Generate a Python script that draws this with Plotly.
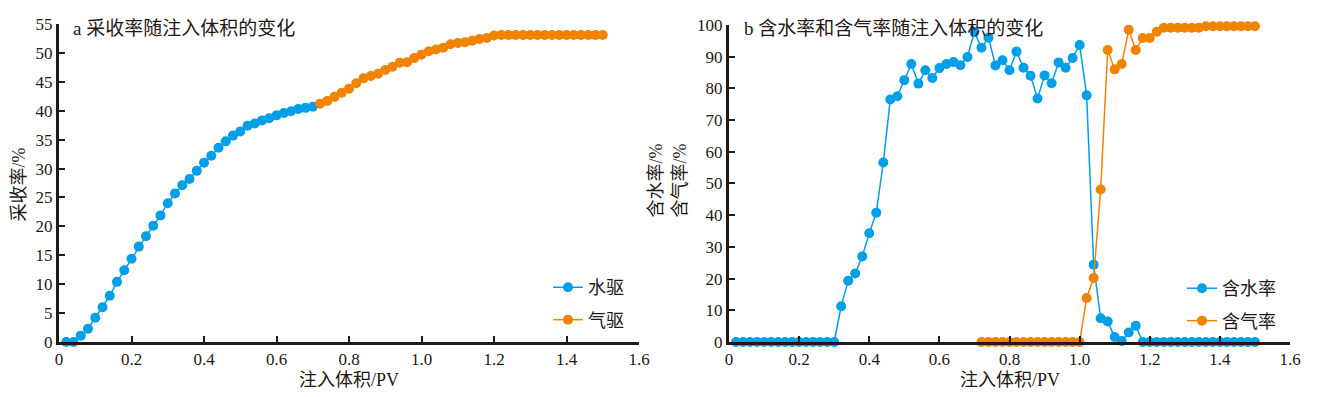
import plotly.graph_objects as go

# ---------------- data ----------------
# Panel a: recovery factor vs injected volume
water_drive_pv = [0.02, 0.04, 0.06, 0.08, 0.10, 0.12, 0.14, 0.16, 0.18, 0.20,
                  0.22, 0.24, 0.26, 0.28, 0.30, 0.32, 0.34, 0.36, 0.38, 0.40,
                  0.42, 0.44, 0.46, 0.48, 0.50, 0.52, 0.54, 0.56, 0.58, 0.60,
                  0.62, 0.64, 0.66, 0.68, 0.70]
water_drive_rf = [0, 0, 1.1, 2.3, 4.2, 6.0, 8.0, 10.4, 12.4, 14.4,
                  16.5, 18.3, 20.1, 21.9, 24.0, 25.7, 27.1, 28.2, 29.6, 31.0,
                  32.2, 33.6, 34.7, 35.7, 36.4, 37.4, 37.8, 38.3, 38.7, 39.2,
                  39.6, 39.9, 40.3, 40.5, 40.7]
gas_drive_pv = [0.72, 0.74, 0.76, 0.78, 0.80, 0.82, 0.84, 0.86, 0.88, 0.90,
                0.92, 0.94, 0.96, 0.98, 1.00, 1.02, 1.04, 1.06, 1.08, 1.10,
                1.12, 1.14, 1.16, 1.18, 1.20, 1.22, 1.24, 1.26, 1.28, 1.30,
                1.32, 1.34, 1.36, 1.38, 1.40, 1.42, 1.44, 1.46, 1.48, 1.50]
gas_drive_rf = [41.2, 41.7, 42.4, 43.1, 43.8, 44.75, 45.6, 46.0, 46.4, 47.05,
                47.6, 48.3, 48.4, 49.1, 49.7, 50.3, 50.6, 50.9, 51.5, 51.7,
                51.85, 52.1, 52.4, 52.6, 53.0, 53.1, 53.1, 53.1, 53.1, 53.1,
                53.1, 53.1, 53.1, 53.1, 53.1, 53.1, 53.1, 53.1, 53.1, 53.1]

# Panel b: water cut and gas cut vs injected volume
cut_pv = [0.02, 0.04, 0.06, 0.08, 0.10, 0.12, 0.14, 0.16, 0.18, 0.20,
          0.22, 0.24, 0.26, 0.28, 0.30, 0.32, 0.34, 0.36, 0.38, 0.40,
          0.42, 0.44, 0.46, 0.48, 0.50, 0.52, 0.54, 0.56, 0.58, 0.60,
          0.62, 0.64, 0.66, 0.68, 0.70, 0.72, 0.74, 0.76, 0.78, 0.80,
          0.82, 0.84, 0.86, 0.88, 0.90, 0.92, 0.94, 0.96, 0.98, 1.00,
          1.02, 1.04, 1.06, 1.08, 1.10, 1.12, 1.14, 1.16, 1.18, 1.20,
          1.22, 1.24, 1.26, 1.28, 1.30, 1.32, 1.34, 1.36, 1.38, 1.40,
          1.42, 1.44, 1.46, 1.48, 1.50]
water_cut = [0, 0, 0, 0, 0, 0, 0, 0, 0, 0,
             0, 0, 0, 0, 0, 11.3, 19.3, 21.6, 27.0, 34.3,
             40.8, 56.6, 76.5, 77.5, 82.6, 87.7, 81.5, 85.7, 83.3, 86.4,
             87.7, 88.3, 87.3, 89.9, 97.8, 92.8, 96.0, 87.2, 88.9, 85.7,
             91.6, 86.5, 84.0, 76.8, 84.1, 81.6, 88.2, 86.5, 89.6, 93.7,
             77.8, 24.4, 7.5, 6.5, 1.6, 0.3, 3.0, 5.1, 0, 0,
             0, 0, 0, 0, 0, 0, 0, 0, 0, 0,
             0, 0, 0, 0, 0]
gas_cut_pv = [0.72, 0.74, 0.76, 0.78, 0.80, 0.82, 0.84, 0.86, 0.88, 0.90,
              0.92, 0.94, 0.96, 0.98, 1.00, 1.02, 1.04, 1.06, 1.08, 1.10,
              1.12, 1.14, 1.16, 1.18, 1.20, 1.22, 1.24, 1.26, 1.28, 1.30,
              1.32, 1.34, 1.36, 1.38, 1.40, 1.42, 1.44, 1.46, 1.48, 1.50]
gas_cut = [0, 0, 0, 0, 0, 0, 0, 0, 0, 0,
           0, 0, 0, 0, 0, 13.9, 20.2, 48.1, 92.1, 86.0,
           87.7, 98.5, 92.1, 95.9, 95.9, 97.9, 99.1, 99.1, 99.1, 99.1,
           99.1, 99.1, 99.6, 99.6, 99.6, 99.6, 99.6, 99.6, 99.6, 99.6]

x_ticks = [0, 0.2, 0.4, 0.6, 0.8, 1.0, 1.2, 1.4, 1.6]
x_ticklabels = ["0", "0.2", "0.4", "0.6", "0.8", "1.0", "1.2", "1.4", "1.6"]

# ---------------- style ----------------
BLUE = "#009fe8"
ORANGE = "#f08300"
INK = "#231815"
FONT = "Liberation Serif, Noto Sans CJK SC, serif"

# the page body adds an 8px offset; figure sized so it fills the window exactly
OFF = 8
W, H = 1323 - OFF, 397 - OFF
ML, MR, MT, MB = 59 - OFF, 33, 15 - OFF, 55
PW = W - ML - MR
PH = H - MT - MB


def px_x(p):
    """screen x (reference pixel) -> paper fraction"""
    return (p - OFF - ML) / PW


def px_y(p):
    """screen y (reference pixel) -> paper fraction"""
    return (H - MB - (p - OFF)) / PH


fig = go.Figure()


def add(x, y, color, name, xa, ya, legend):
    fig.add_trace(go.Scatter(
        x=x, y=y, mode="lines+markers", name=name,
        line=dict(color=color, width=1.5),
        marker=dict(color=color, size=10),
        xaxis=xa, yaxis=ya, cliponaxis=False,
        legend=legend, legendgroup=name,
    ))


add(water_drive_pv, water_drive_rf, BLUE, "水驱", "x", "y", "legend")
add(gas_drive_pv, gas_drive_rf, ORANGE, "气驱", "x", "y", "legend")
add(cut_pv, water_cut, BLUE, "含水率", "x2", "y2", "legend2")
add(gas_cut_pv, gas_cut, ORANGE, "含气率", "x2", "y2", "legend2")

axis_common = dict(
    showline=True, linecolor=INK, linewidth=3,
    ticks="inside", ticklen=6, tickwidth=2, tickcolor=INK,
    showgrid=False, zeroline=False,
    tickfont=dict(family=FONT, size=17, color=INK),
    ticklabeloverflow="allow",
    mirror=False,
)

legend_font = dict(family=FONT, size=18, color=INK)

fig.update_layout(
    width=W, height=H,
    margin=dict(l=ML, r=MR, t=MT, b=MB),
    plot_bgcolor="white", paper_bgcolor="white",
    showlegend=True,
    xaxis=dict(domain=[0, px_x(639)], range=[0, 1.6], anchor="y",
               tickvals=x_ticks, ticktext=x_ticklabels, **axis_common),
    yaxis=dict(domain=[0, 1], range=[0, 55], anchor="x",
               tickvals=list(range(0, 56, 5)), **axis_common),
    xaxis2=dict(domain=[px_x(729), 1], range=[0, 1.6], anchor="y2",
                tickvals=x_ticks, ticktext=x_ticklabels, **axis_common),
    yaxis2=dict(domain=[0, px_y(16)], range=[0, 100], anchor="x2",
                tickvals=list(range(0, 101, 10)), **axis_common),
    legend=dict(x=px_x(548), y=px_y(267), xanchor="left", yanchor="top",
                font=legend_font, bgcolor="rgba(0,0,0,0)", tracegroupgap=6),
    legend2=dict(x=px_x(1182), y=px_y(268), xanchor="left", yanchor="top",
                 font=legend_font, bgcolor="rgba(0,0,0,0)", tracegroupgap=6),
)

title_font = dict(family=FONT, size=19, color=INK)
label_font = dict(family=FONT, size=18, color=INK)
annotations = [
    dict(text="a 采收率随注入体积的变化", x=px_x(71), y=px_y(20),
         xanchor="left", yanchor="middle", showarrow=False, font=title_font),
    dict(text="b 含水率和含气率随注入体积的变化", x=px_x(742), y=px_y(20),
         xanchor="left", yanchor="middle", showarrow=False, font=title_font),
    dict(text="注入体积/PV", x=px_x(349), y=px_y(381),
         xanchor="center", yanchor="middle", showarrow=False, font=label_font),
    dict(text="注入体积/PV", x=px_x(1010), y=px_y(381),
         xanchor="center", yanchor="middle", showarrow=False, font=label_font),
    dict(text="采收率/%", x=px_x(19), y=px_y(180), textangle=-90,
         xanchor="center", yanchor="middle", showarrow=False, font=label_font),
    dict(text="含水率/%<br>含气率/%", x=px_x(668), y=px_y(176), textangle=-90,
         xanchor="center", yanchor="middle", showarrow=False, font=label_font),
]
for a in annotations:
    a["xref"] = "paper"
    a["yref"] = "paper"
fig.update_layout(annotations=annotations)

fig.write_html("out.html")
